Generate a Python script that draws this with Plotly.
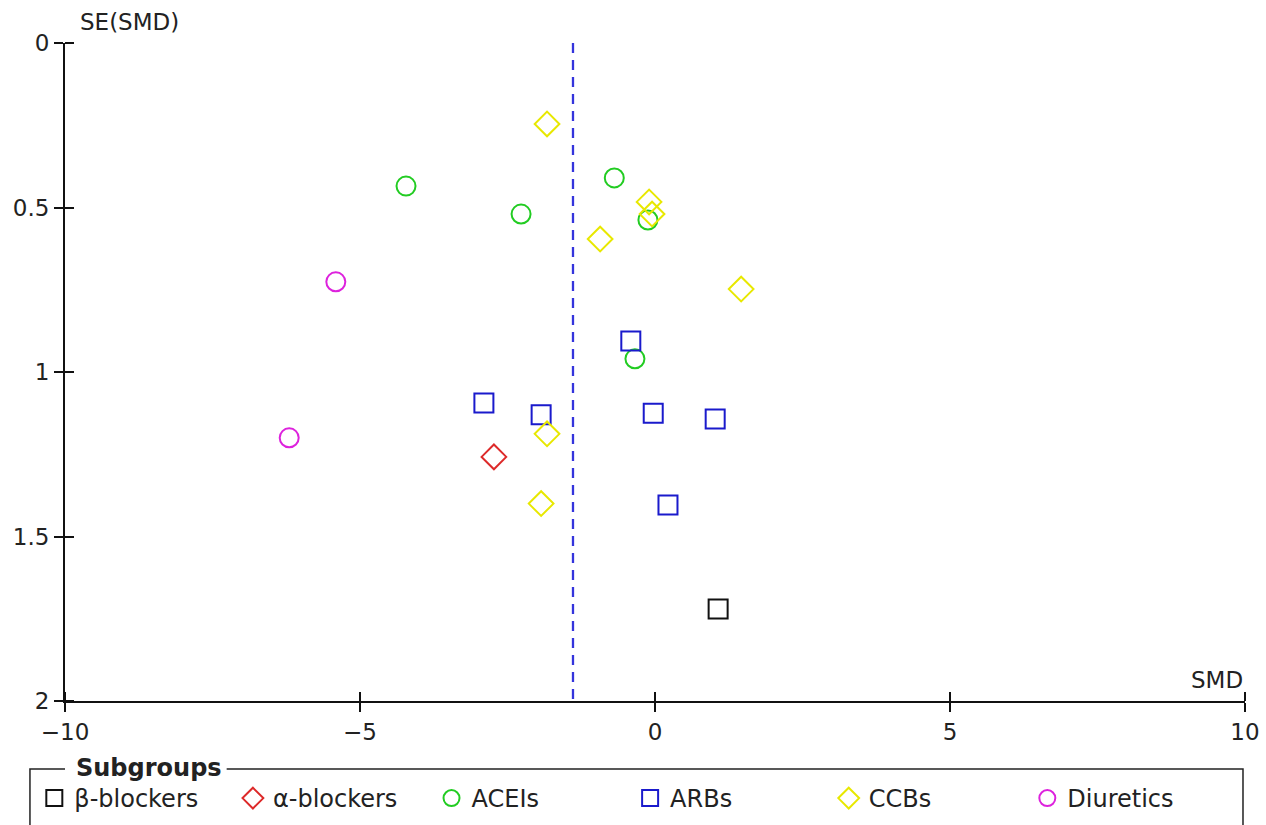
import plotly.graph_objects as go

# ---- data ----
beta_smd = [1.07]
beta_se = [1.72]
alpha_smd = [-2.73]
alpha_se = [1.258]
acei_smd = [-4.22, -2.27, -0.69, -0.12, -0.34]
acei_se = [0.435, 0.52, 0.41, 0.538, 0.96]
arb_smd = [-0.41, -2.90, -1.93, -0.03, 1.02, 0.22]
arb_se = [0.906, 1.094, 1.13, 1.125, 1.143, 1.404]
ccb_smd = [-1.83, -0.10, -0.05, -0.93, 1.46, -1.83, -1.93]
ccb_se = [0.246, 0.483, 0.52, 0.596, 0.748, 1.188, 1.40]
diu_smd = [-5.41, -6.20]
diu_se = [0.726, 1.20]
pooled_smd = -1.39
se_span = [0, 2]
x_ticks = [-10, -5, 0, 5, 10]
y_ticks = [0, 0.5, 1, 1.5, 2]

FONT = "DejaVu Sans"
MS = 19
EPS = 1e-7  # inner halves of the crossing tick marks (minor ticks just off the majors)

groups = [
    ("β‑blockers", beta_smd, beta_se, "square-open", "#111111"),
    ("α‑blockers", alpha_smd, alpha_se, "diamond-open", "#dd2a2a"),
    ("ACEIs", acei_smd, acei_se, "circle-open", "#22cc22"),
    ("ARBs", arb_smd, arb_se, "square-open", "#1a1acc"),
    ("CCBs", ccb_smd, ccb_se, "diamond-open", "#e8e800"),
    ("Diuretics", diu_smd, diu_se, "circle-open", "#dd22dd"),
]

fig = go.Figure()

fig.add_trace(go.Scatter(
    x=[pooled_smd, pooled_smd], y=se_span, mode="lines",
    line=dict(color="#3434dc", width=2.3, dash="10px,7px"),
    showlegend=False, hoverinfo="skip"))

for name, xs, ys, sym, col in groups:
    fig.add_trace(go.Scatter(
        x=xs, y=ys, mode="markers", name=name,
        marker=dict(symbol=sym, size=MS, color=col, line=dict(color=col, width=2))))


def axis_style(tickvals):
    return dict(showgrid=False, zeroline=False, showline=True, linecolor="#111111", linewidth=2,
                tickvals=tickvals, ticks="outside", ticklen=9, tickwidth=1.5, tickcolor="#111111",
                tickfont=dict(family=FONT, size=23, color="#222222"),
                minor=dict(tickmode="array", tickvals=[v + EPS for v in tickvals],
                           ticks="inside", ticklen=9, tickwidth=1.5, tickcolor="#111111",
                           showgrid=False))


fig.update_layout(
    width=1266, height=825,
    margin=dict(l=65, r=21, t=43, b=124, autoexpand=False),
    paper_bgcolor="white", plot_bgcolor="white",
    font=dict(family=FONT, size=23, color="#222222"),
    xaxis=dict(range=[-10, 10], **axis_style(x_ticks)),
    yaxis=dict(range=[2, 0], **axis_style(y_ticks)),
    showlegend=True,
    legend=dict(orientation="h", x=-0.026, xanchor="left", y=-0.114, yanchor="top",
                entrywidth=153.6, entrywidthmode="pixels",
                font=dict(family=FONT, size=24, color="#222222"),
                bgcolor="rgba(0,0,0,0)", itemclick=False, itemdoubleclick=False),
)

# legend frame (fieldset style with the title on the top border)
fig.add_shape(type="path", xref="paper", yref="paper",
              path="M 0.0,-0.1033 L -0.0297,-0.1033 L -0.0297,-0.25 L 0.9983,-0.25 L 0.9983,-0.1033 L 0.137,-0.1033",
              line=dict(color="#222222", width=1.5))
fig.add_annotation(text="<b>Subgroups</b>", xref="paper", yref="paper", x=0.0075, y=-0.1033,
                   xanchor="left", yanchor="middle", yshift=1, showarrow=False,
                   font=dict(family=FONT, size=24, color="#222222"))

fig.add_annotation(text="SE(SMD)", xref="paper", yref="paper", x=0.011, y=1.0,
                   xanchor="left", yanchor="bottom", yshift=6, showarrow=False,
                   font=dict(family=FONT, size=23, color="#222222"))
fig.add_annotation(text="SMD", xref="paper", yref="paper", x=1.0, y=0.0,
                   xanchor="right", yanchor="bottom", yshift=6, showarrow=False,
                   font=dict(family=FONT, size=23, color="#222222"))

fig.write_html("out.html")
